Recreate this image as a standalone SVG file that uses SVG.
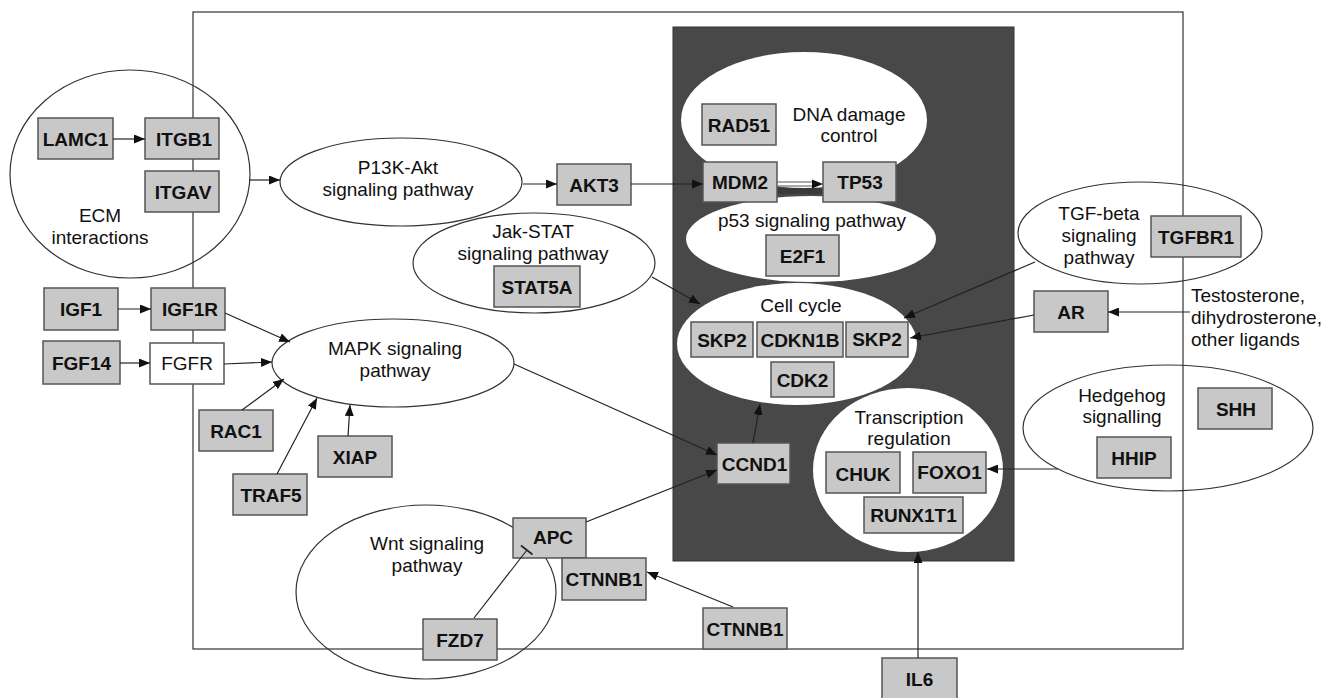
<svg xmlns="http://www.w3.org/2000/svg" width="1336" height="698" viewBox="0 0 1336 698">
<style>
.bg{fill:#ffffff}
.frame{fill:none;stroke:#333;stroke-width:1.2}
.dark{fill:#484848;stroke:#333;stroke-width:1}
.ov{fill:none;stroke:#333;stroke-width:1.2}
.iv{fill:#ffffff;stroke:none}
.box rect{fill:#c8c8c8;stroke:#555;stroke-width:1.5}
.box text{font-family:"Liberation Sans",Arial,sans-serif;font-weight:bold;font-size:19px;fill:#111;text-anchor:middle}
.wbox rect{fill:#ffffff;stroke:#555;stroke-width:1.5}
.wbox text{font-family:"Liberation Sans",Arial,sans-serif;font-size:19px;fill:#111;text-anchor:middle}
.lbl{font-family:"Liberation Sans",Arial,sans-serif;font-size:19px;fill:#111;text-anchor:middle}
.lbll{font-family:"Liberation Sans",Arial,sans-serif;font-size:19px;fill:#111;text-anchor:start}
.c line,.c path{stroke:#222;stroke-width:1.2;fill:none}
.c .a{marker-end:url(#ah)}
</style>
<defs>
<marker id="ah" markerUnits="userSpaceOnUse" markerWidth="11" markerHeight="9" refX="11" refY="4.5" orient="auto">
<path d="M0,0 L11,4.5 L0,9 z" fill="#111"/>
</marker>
</defs>
<rect class="bg" x="0" y="0" width="1336" height="698"/>

<!-- outer pathway ellipses (unfilled) -->
<g id="ecm"><ellipse class="ov" cx="130" cy="174" rx="120" ry="104"/><text class="lbl" x="100" y="222">ECM</text><text class="lbl" x="100" y="244">interactions</text></g>
<g id="pi3k"><ellipse class="ov" cx="401" cy="182" rx="121" ry="44"/><text class="lbl" x="398" y="174">P13K-Akt</text><text class="lbl" x="398" y="196">signaling pathway</text></g>
<g id="jakstat"><ellipse class="ov" cx="534" cy="263" rx="121" ry="50"/><text class="lbl" x="533" y="238">Jak-STAT</text><text class="lbl" x="533" y="260">signaling pathway</text></g>
<g id="mapk"><ellipse class="ov" cx="393" cy="363" rx="121" ry="44"/><text class="lbl" x="395" y="355">MAPK signaling</text><text class="lbl" x="395" y="377">pathway</text></g>
<g id="wnt"><ellipse class="ov" cx="426" cy="592" rx="130" ry="87"/><text class="lbl" x="427" y="550">Wnt signaling</text><text class="lbl" x="427" y="572">pathway</text></g>
<g id="tgfbeta"><ellipse class="ov" cx="1140" cy="233" rx="122" ry="51"/><text class="lbl" x="1099" y="220">TGF-beta</text><text class="lbl" x="1099" y="242">signaling</text><text class="lbl" x="1099" y="264">pathway</text></g>
<g id="hedgehog"><ellipse class="ov" cx="1168" cy="428" rx="145" ry="63"/><text class="lbl" x="1122" y="402">Hedgehog</text><text class="lbl" x="1122" y="423">signalling</text></g>

<!-- cell boundary -->
<rect class="frame" x="193" y="12" width="990" height="637"/>

<!-- nucleus -->
<rect class="dark" x="673" y="27" width="341" height="534"/>
<g id="dna"><ellipse class="iv" cx="804" cy="120" rx="123" ry="68"/><text class="lbl" x="849" y="121">DNA damage</text><text class="lbl" x="849" y="142">control</text></g>
<g id="p53"><ellipse class="iv" cx="811" cy="239" rx="125" ry="43"/><text class="lbl" x="812" y="227">p53 signaling pathway</text></g>
<g id="cellcycle"><ellipse class="iv" cx="797" cy="344" rx="120" ry="61"/><text class="lbl" x="801" y="312">Cell cycle</text></g>
<g id="transcription"><ellipse class="iv" cx="908" cy="470" rx="95" ry="82"/><text class="lbl" x="909" y="424">Transcription</text><text class="lbl" x="909" y="445">regulation</text></g>

<!-- gene nodes -->
<g id="LAMC1" class="box"><rect x="38" y="118" width="75" height="41"/><text x="75.5" y="145.5">LAMC1</text></g>
<g id="ITGB1" class="box"><rect x="145" y="118" width="74" height="41"/><text x="184" y="145.5">ITGB1</text></g>
<g id="ITGAV" class="box"><rect x="145" y="171" width="74" height="41"/><text x="183" y="198.5">ITGAV</text></g>
<g id="IGF1" class="box"><rect x="44" y="288" width="74" height="42"/><text x="81" y="316">IGF1</text></g>
<g id="IGF1R" class="box"><rect x="151" y="288" width="74" height="42"/><text x="190" y="316">IGF1R</text></g>
<g id="FGF14" class="box"><rect x="43" y="341" width="77" height="43"/><text x="81.5" y="369.5">FGF14</text></g>
<g id="FGFR" class="wbox"><rect x="150" y="343" width="74" height="41"/><text x="187" y="370">FGFR</text></g>
<g id="RAC1" class="box"><rect x="199" y="410" width="74" height="41"/><text x="236" y="437.5">RAC1</text></g>
<g id="TRAF5" class="box"><rect x="233" y="474" width="74" height="41"/><text x="271" y="501.5">TRAF5</text></g>
<g id="XIAP" class="box"><rect x="318" y="436" width="74" height="41"/><text x="355" y="463.5">XIAP</text></g>
<g id="AKT3" class="box"><rect x="557" y="164" width="74" height="41"/><text x="594" y="191.5">AKT3</text></g>
<g id="STAT5A" class="box"><rect x="494" y="266" width="86" height="41"/><text x="537" y="293.5">STAT5A</text></g>
<g id="RAD51" class="box"><rect x="702" y="104" width="74" height="41"/><text x="739" y="131.5">RAD51</text></g>
<g id="MDM2" class="box"><rect x="703" y="162" width="74" height="40"/><text x="740" y="189">MDM2</text></g>
<g id="TP53" class="box"><rect x="823" y="162" width="73" height="40"/><text x="860" y="189">TP53</text></g>
<g id="E2F1" class="box"><rect x="766" y="235" width="73" height="41"/><text x="802.5" y="262.5">E2F1</text></g>
<g id="SKP2a" class="box"><rect x="691" y="322" width="62" height="35"/><text x="722" y="346.5">SKP2</text></g>
<g id="CDKN1B" class="box"><rect x="757" y="322" width="86" height="35"/><text x="800" y="346.5">CDKN1B</text></g>
<g id="SKP2b" class="box"><rect x="846" y="322" width="62" height="35"/><text x="877" y="345.5">SKP2</text></g>
<g id="CDK2" class="box"><rect x="771" y="362" width="63" height="35"/><text x="802.5" y="386.5">CDK2</text></g>
<g id="CCND1" class="box"><rect x="717" y="443" width="73" height="41"/><text x="754.5" y="470.5">CCND1</text></g>
<g id="CHUK" class="box"><rect x="826" y="452" width="74" height="41"/><text x="863" y="481">CHUK</text></g>
<g id="FOXO1" class="box"><rect x="913" y="452" width="73" height="41"/><text x="949.5" y="479">FOXO1</text></g>
<g id="RUNX1T1" class="box"><rect x="864" y="497" width="99" height="36"/><text x="913.5" y="522">RUNX1T1</text></g>
<g id="APC" class="box"><rect x="513" y="518" width="73" height="40"/><text x="553" y="544">APC</text></g>
<g id="CTNNB1a" class="box"><rect x="562" y="558" width="84" height="42"/><text x="604" y="586">CTNNB1</text></g>
<g id="CTNNB1b" class="box"><rect x="703" y="608" width="84" height="41"/><text x="745" y="635.5">CTNNB1</text></g>
<g id="FZD7" class="box"><rect x="423" y="619" width="74" height="41"/><text x="460" y="646.5">FZD7</text></g>
<g id="TGFBR1" class="box"><rect x="1151" y="216" width="90" height="41"/><text x="1196" y="243.5">TGFBR1</text></g>
<g id="AR" class="box"><rect x="1034" y="291" width="74" height="41"/><text x="1071" y="318.5">AR</text></g>
<g id="HHIP" class="box"><rect x="1097" y="437" width="74" height="41"/><text x="1134" y="464.5">HHIP</text></g>
<g id="SHH" class="box"><rect x="1198" y="388" width="74" height="41"/><text x="1236" y="415.5">SHH</text></g>
<g id="IL6" class="box"><rect x="882" y="658" width="75" height="42"/><text x="919.5" y="686">IL6</text></g>

<g id="ligands"><text class="lbll" x="1191" y="302">Testosterone,</text><text class="lbll" x="1191" y="324">dihydrosterone,</text><text class="lbll" x="1191" y="346">other ligands</text></g>

<!-- connectors -->
<g id="connectors" class="c">
<line class="a" x1="113" y1="139" x2="145" y2="139"/>
<line class="a" x1="249" y1="180" x2="280" y2="180"/>
<line class="a" x1="523" y1="184" x2="557" y2="184"/>
<line class="a" x1="631" y1="184" x2="703" y2="184"/>
<line x1="778" y1="191" x2="822" y2="191" style="stroke:#3a3a3a;stroke-width:6"/>
<line x1="778" y1="184" x2="813" y2="184" style="stroke:#555;stroke-width:5"/>
<line x1="778" y1="184" x2="814" y2="184" style="stroke:#fff;stroke-width:3"/>
<path d="M812,179.5 L823,184 L812,188.5 z" style="fill:#111;stroke:none"/>
<line class="a" x1="118" y1="309" x2="151" y2="309"/>
<line class="a" x1="120" y1="363" x2="150" y2="363"/>
<line class="a" x1="225" y1="313" x2="290" y2="342"/>
<line class="a" x1="224" y1="364" x2="272" y2="362"/>
<line class="a" x1="242" y1="410" x2="284" y2="379"/>
<line class="a" x1="277" y1="474" x2="317" y2="398"/>
<line class="a" x1="348" y1="436" x2="350" y2="405"/>
<line class="a" x1="514" y1="364" x2="717" y2="455"/>
<line class="a" x1="586" y1="522" x2="717" y2="470"/>
<line class="a" x1="652" y1="277" x2="700" y2="304"/>
<line class="a" x1="1035" y1="262" x2="904" y2="318"/>
<line class="a" x1="1034" y1="315" x2="910" y2="338"/>
<line class="a" x1="1190" y1="312" x2="1108" y2="312"/>
<line class="a" x1="1058" y1="469" x2="987" y2="469"/>
<line class="a" x1="918" y1="658" x2="918" y2="552"/>
<line class="a" x1="753" y1="443" x2="760" y2="404"/>
<line class="a" x1="733" y1="607" x2="647" y2="572"/>
<line x1="474" y1="618" x2="527" y2="550"/>
<line x1="521" y1="545.5" x2="532.5" y2="554.5" style="stroke-width:1.6"/>
</g>
</svg>
